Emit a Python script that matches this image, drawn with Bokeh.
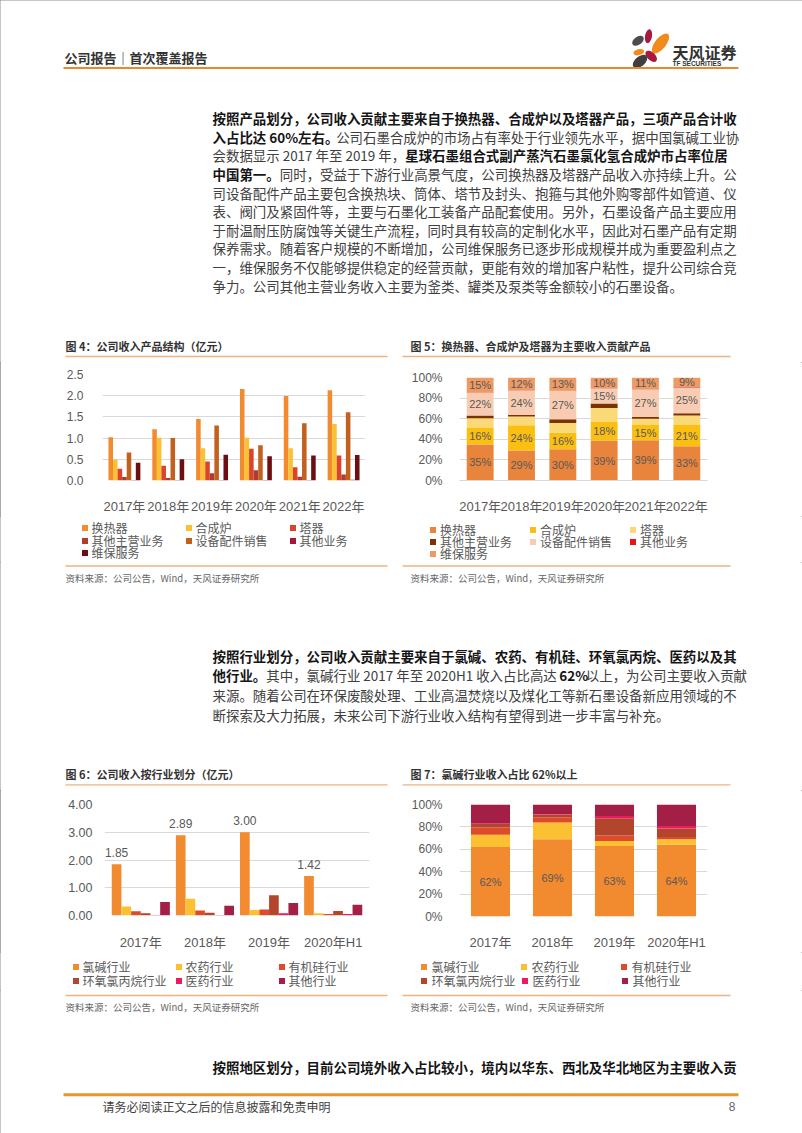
from bokeh.plotting import figure
from bokeh.models import (Range1d, FactorRange, Legend, LegendItem, FixedTicker,
                          PrintfTickFormatter, ColumnDataSource)
from bokeh.layouts import column, row
from bokeh.transform import dodge
from bokeh.core.properties import value
from bokeh.embed import file_html
from bokeh.resources import INLINE

# ---------------- data ----------------
years_a = ["2017年", "2018年", "2019年", "2020年", "2021年", "2022年"]
product_names = ["换热器", "合成炉", "塔器", "其他主营业务", "设备配件销售", "其他业务", "维保服务"]
yticks_a = [0, 0.5, 1.0, 1.5, 2.0, 2.5]
rev_heat_exchanger = [1.02, 1.21, 1.45, 2.16, 1.99, 2.13]
rev_synthesis_furnace = [0.49, 1.01, 0.76, 1.01, 0.76, 1.33]
rev_tower = [0.28, 0.35, 0.45, 0.75, 0.31, 0.59]
rev_other_main = [0.08, 0.06, 0.17, 0.24, 0.09, 0.14]
rev_parts = [0.66, 1.00, 1.30, 0.83, 1.35, 1.61]
rev_other_biz = [0.01, 0.01, 0.01, 0.01, 0.01, 0.02]
rev_maintenance = [0.42, 0.50, 0.61, 0.57, 0.59, 0.60]

pct_ticks = [0, 20, 40, 60, 80, 100]
share_heat_exchanger = [35.0, 29.2, 30.4, 38.8, 39.0, 33.2]
share_synthesis_furnace = [16.0, 24.4, 16.0, 18.1, 14.9, 20.7]
share_tower = [9.5, 8.5, 9.5, 13.5, 6.1, 9.2]
share_other_main = [2.5, 1.4, 3.6, 4.3, 1.8, 2.2]
share_parts = [22.0, 24.2, 27.4, 14.9, 26.6, 25.1]
share_other_biz = [0.3, 0.2, 0.2, 0.2, 0.2, 0.3]
share_maintenance = [14.7, 12.1, 12.9, 10.2, 11.4, 9.3]

years_b = ["2017年", "2018年", "2019年", "2020年H1"]
industry_names = ["氯碱行业", "农药行业", "有机硅行业", "环氧氯丙烷行业", "医药行业", "其他行业"]
yticks_b = [0, 1, 2, 3, 4]
ind_chlor_alkali = [1.85, 2.89, 3.00, 1.42]
ind_pesticide = [0.32, 0.60, 0.20, 0.08]
ind_silicone = [0.15, 0.18, 0.22, 0.05]
ind_epichlorohydrin = [0.08, 0.10, 0.73, 0.16]
ind_pharma = [0.02, 0.02, 0.08, 0.05]
ind_other = [0.49, 0.35, 0.45, 0.39]

ishare_chlor_alkali = [62.0, 69.0, 63.0, 64.0]
ishare_pesticide = [11.0, 15.0, 4.3, 5.0]
ishare_silicone = [6.5, 4.6, 5.1, 2.0]
ishare_epichlorohydrin = [3.2, 2.2, 15.4, 7.5]
ishare_pharma = [0.5, 0.5, 2.0, 2.3]
ishare_other = [16.8, 8.7, 10.2, 19.2]

# ---------------- texts ----------------
header_text = "公司报告｜首次覆盖报告"
logo_cn = "天风证券"
logo_en = "TF SECURITIES"
title4 = "图 4：公司收入产品结构（亿元）"
title5 = "图 5：换热器、合成炉及塔器为主要收入贡献产品"
title6 = "图 6：公司收入按行业划分（亿元）"
title7 = "图 7：氯碱行业收入占比 62%以上"
source_text = "资料来源：公司公告，Wind，天风证券研究所"
footer_text = "请务必阅读正文之后的信息披露和免责申明"
page_no = "8"

para1 = [
    [("按照产品划分，公司收入贡献主要来自于换热器、合成炉以及塔器产品，三项产品合计收", True)],
    [("入占比达 60%左右。", True), ("公司石墨合成炉的市场占有率处于行业领先水平，据中国氯碱工业协", False)],
    [("会数据显示 2017 年至 2019 年，", False), ("星球石墨组合式副产蒸汽石墨氯化氢合成炉市占率位居", True)],
    [("中国第一。", True), ("同时，受益于下游行业高景气度，公司换热器及塔器产品收入亦持续上升。公", False)],
    [("司设备配件产品主要包含换热块、筒体、塔节及封头、抱箍与其他外购零部件如管道、仪", False)],
    [("表、阀门及紧固件等，主要与石墨化工装备产品配套使用。另外，石墨设备产品主要应用", False)],
    [("于耐温耐压防腐蚀等关键生产流程，同时具有较高的定制化水平，因此对石墨产品有定期", False)],
    [("保养需求。随着客户规模的不断增加，公司维保服务已逐步形成规模并成为重要盈利点之", False)],
    [("一，维保服务不仅能够提供稳定的经营贡献，更能有效的增加客户粘性，提升公司综合竞", False)],
    [("争力。公司其他主营业务收入主要为釜类、罐类及泵类等金额较小的石墨设备。", False)],
]
para2 = [
    [("按照行业划分，公司收入贡献主要来自于氯碱、农药、有机硅、环氧氯丙烷、医药以及其", True)],
    [("他行业。", True), ("其中，氯碱行业 2017 年至 2020H1 收入占比高达 ", False), ("62%", True),
     ("以上，为公司主要收入贡献", False)],
    [("来源。随着公司在环保废酸处理、工业高温焚烧以及煤化工等新石墨设备新应用领域的不", False)],
    [("断探索及大力拓展，未来公司下游行业收入结构有望得到进一步丰富与补充。", False)],
]
para3 = [
    [("按照地区划分，目前公司境外收入占比较小，境内以华东、西北及华北地区为主要收入贡", True)],
]

# ---------------- styling ----------------
CJK = "Noto Sans CJK SC"
MIX = "'Liberation Sans', 'Noto Sans CJK SC'"
NARROW = "'Liberation Sans Narrow', 'Liberation Sans'"
ORANGE = "#E8892B"
TLINE = "#F0B27F"
GRID = "#D9D9D9"
AXTXT = "#595959"
colors4 = ["#F28A30", "#FCC033", "#DB442B", "#AC3D2F", "#C2611F", "#A5153C", "#6D0F12"]
colors5 = ["#E8843C", "#FBBF12", "#FCD977", "#7B3300", "#F8CCB2", "#E8141C", "#EE9A65"]
colors6 = ["#F28A30", "#FCC033", "#DE4B2B", "#B3452C", "#EC1A5E", "#A31F45"]

FS = 13.45  # body font size
PAGE_W = 802
PAGE_H = 1133
NAN = float("nan")


def est_width(s, fs):
    w = 0.0
    for ch in s:
        if ord(ch) < 128:
            if ch == " ":
                w += 0.224 * fs
            elif ch.isdigit():
                w += 0.554 * fs
            elif ch == "%":
                w += 0.86 * fs
            elif ch.isupper():
                w += 0.68 * fs
            else:
                w += 0.5 * fs
        else:
            w += fs
    return w


def pix_fig(x0, x1, y0, y1):
    """figure whose data units are page pixels (y downward)"""
    p = figure(width=x1 - x0, height=y1 - y0, x_range=Range1d(x0, x1), y_range=Range1d(y1, y0),
               x_axis_type=None, y_axis_type=None, toolbar_location=None,
               output_backend="svg", min_border=0)
    p.outline_line_color = None
    p.border_fill_color = "white"
    p.background_fill_color = "white"
    return p


def draw_par(p, lines, x0, ys, fs=FS):
    xn, yn, tn, xb, yb, tb = [], [], [], [], [], []
    for segs, y in zip(lines, ys):
        x = x0
        for txt, bold in segs:
            if bold:
                xb.append(x); yb.append(y); tb.append(txt)
            else:
                xn.append(x); yn.append(y); tn.append(txt)
            x += est_width(txt, fs)
    if tn:
        p.text(x=xn, y=yn, text=tn, text_font=value(CJK), text_font_size=f"{fs}px",
               text_color="#404040", text_baseline="middle", text_align="left")
    if tb:
        p.text(x=xb, y=yb, text=tb, text_font=value(CJK), text_font_size=f"{fs}px",
               text_font_style="bold", text_color="#151515", text_baseline="middle", text_align="left")


def add_titles(p, t_left, t_right, y_title, y_line):
    p.text(x=[65, 410], y=[y_title, y_title], text=[t_left, t_right], text_font=value(CJK),
           text_font_size="11px", text_font_style="bold", text_color="#333333",
           text_baseline="middle", text_align="left")
    p.segment(x0=[65, 402], y0=[y_line, y_line], x1=[387, 730], y1=[y_line, y_line],
              line_color=TLINE, line_width=1.3)


def add_sources(p, y_line, y_src):
    p.segment(x0=[65, 402], y0=[y_line, y_line], x1=[387, 730], y1=[y_line, y_line],
              line_color=TLINE, line_width=1.3)
    p.text(x=[65, 410], y=[y_src, y_src], text=[source_text, source_text], text_font=value(CJK),
           text_font_size="9.5px", text_color="#666666", text_baseline="middle", text_align="left")


def style_chart(p, yticks, yfmt, ylab_fs, ystand, xstand, xaxis_line=None):
    p.outline_line_color = None
    p.border_fill_color = "white"
    p.background_fill_color = "white"
    p.xgrid.grid_line_color = None
    p.ygrid.grid_line_color = GRID
    p.ygrid.grid_line_width = 1
    p.yaxis.ticker = FixedTicker(ticks=yticks)
    p.yaxis.formatter = PrintfTickFormatter(format=yfmt)
    for ax in p.yaxis:
        ax.axis_line_color = None
        ax.major_tick_line_color = None
        ax.minor_tick_line_color = None
        ax.major_label_text_font = "Liberation Sans"
        ax.major_label_text_font_size = ylab_fs
        ax.major_label_text_color = AXTXT
        ax.major_label_standoff = ystand
    for ax in p.xaxis:
        ax.axis_line_color = xaxis_line
        ax.major_tick_line_color = None
        ax.minor_tick_line_color = None
        ax.major_label_text_font = MIX
        ax.major_label_text_font_size = "13px"
        ax.major_label_text_color = AXTXT
        ax.major_label_standoff = xstand


def legend_fig(x0, x1, y0, y1, labels, colors, glyph_cx, row_ys, pitch, ncol=3):
    """legend panel below a chart; swatches come from placeholder square markers (no drawn data)"""
    lf = pix_fig(x0, x1, y0, y1)
    rends = [lf.scatter(x=[NAN], y=[NAN], marker="square", size=6, fill_color=c, line_color=None)
             for c in colors]
    GW, GH, STAND, SP = 15, 17, -2, 2
    H = 17.4
    for k, start in enumerate(range(0, len(labels), ncol)):
        idx = list(range(start, min(start + ncol, len(labels))))
        items = [LegendItem(label=labels[i], renderers=[rends[i]]) for i in idx]
        yc = row_ys[k]
        vy = y1 - (yc + H / 2)
        leg = Legend(items=items, orientation="horizontal", location=(glyph_cx - GW / 2 - x0, vy),
                     padding=0, margin=0, spacing=SP, glyph_width=GW, glyph_height=GH,
                     label_height=GH, label_width=pitch - GW - STAND - SP, label_standoff=STAND)
        leg.border_line_color = None
        leg.background_fill_alpha = 0
        leg.inactive_fill_alpha = 0
        leg.label_text_font = CJK
        leg.label_text_font_size = "12px"
        leg.label_text_color = AXTXT
        lf.add_layout(leg, "center")
    return lf


# ---------------- section A: header + paragraph 1 + chart titles ----------------
sa = pix_fig(0, PAGE_W, 0, 362)
sa.text(x=[64], y=[57], text=[header_text], text_font=value(CJK), text_font_size="13px",
        text_font_style="bold", text_color="#333333", text_baseline="middle")
sa.ellipse(x=[637.5, 648.0, 660.0, 638.3, 650.7, 639.5],
           y=[40.3, 35.7, 43.0, 51.7, 55.8, 61.0],
           width=[13, 14, 24, 11, 14, 17], height=[8, 7, 11, 6, 8, 10],
           angle=[0.6, 1.4, 0.9, 0.25, -0.75, 0.7],
           fill_color=["#4D4D4D", "#A8193E", "#F08C1E", "#F08C1E", "#A8193E", "#3F3F3F"],
           line_color=None)
sa.text(x=[672], y=[51], text=[logo_cn], text_font=value(CJK), text_font_size="16px",
        text_font_style="bold", text_color="#333333", text_baseline="middle")
sa.text(x=[672], y=[62.5], text=[logo_en], text_font=value("Liberation Sans"), text_font_size="6.5px",
        text_font_style="bold", text_color="#333333", text_baseline="middle")
sa.segment(x0=[63], y0=[67.5], x1=[738], y1=[67.5], line_color=ORANGE, line_width=2)
draw_par(sa, para1, 212, [117.7 + 18.6 * i for i in range(len(para1))])
add_titles(sa, title4, title5, 345, 356)

# ---------------- chart 4: grouped bars ----------------
p4 = figure(width=400, height=154, x_range=FactorRange(factors=years_a), y_range=Range1d(0, 2.5),
            output_backend="svg", toolbar_location=None,
            min_border_left=102, min_border_right=35, min_border_top=12, min_border_bottom=34)
src4 = ColumnDataSource(data=dict(year=years_a, s0=rev_heat_exchanger, s1=rev_synthesis_furnace,
                                  s2=rev_tower, s3=rev_other_main, s4=rev_parts, s5=rev_other_biz,
                                  s6=rev_maintenance))
bw4 = 0.104
for i in range(7):
    p4.vbar(x=dodge("year", (i - 3) * bw4, range=p4.x_range), top=f"s{i}", width=bw4,
            source=src4, fill_color=colors4[i], line_color=None)
style_chart(p4, yticks_a, "%.1f", "12px", 13, 12)
l4 = legend_fig(0, 400, 516, 562, product_names, colors4, 84.0, [527.3, 540.0, 552.7], 102)

# ---------------- chart 5: 100% stacked ----------------
p5 = figure(width=PAGE_W - 400, height=154, x_range=FactorRange(factors=years_a), y_range=Range1d(0, 100),
            output_backend="svg", toolbar_location=None,
            min_border_left=59, min_border_right=95, min_border_top=15, min_border_bottom=31)
keys5 = ["s0", "s1", "s2", "s3", "s4", "s5", "s6"]
stack5 = [share_heat_exchanger, share_synthesis_furnace, share_tower, share_other_main,
          share_parts, share_other_biz, share_maintenance]
src5 = ColumnDataSource(data=dict(year=years_a, **{k: v for k, v in zip(keys5, stack5)}))
p5.vbar_stack(keys5, x="year", width=0.65, source=src5, fill_color=colors5, line_color=None)
lx, ly, lt = [], [], []
for j, yr in enumerate(years_a):
    cum = 0.0
    for i, ser in enumerate(stack5):
        if i in (0, 1, 4, 6):
            lx.append(yr); ly.append(cum + ser[j] / 2); lt.append(f"{round(ser[j])}%")
        cum += ser[j]
p5.text(x=lx, y=ly, text=lt, text_font=value(NARROW), text_font_size="11px", text_color=AXTXT,
        text_align="center", text_baseline="middle")
style_chart(p5, pct_ticks, "%d%%", "12px", 11, 12, xaxis_line=GRID)
l5 = legend_fig(400, PAGE_W, 516, 562, product_names, colors5, 432.5, [529.3, 541.7, 553.3], 98)

# ---------------- section C: sources + paragraph 2 + chart titles ----------------
sc = pix_fig(0, PAGE_W, 562, 790)
add_sources(sc, 565.5, 577.3)
draw_par(sc, para2, 212, [655.0, 674.8, 694.6, 714.4])
add_titles(sc, title6, title7, 773.3, 784.3)

# ---------------- chart 6: grouped bars ----------------
p6 = figure(width=400, height=162,
            x_range=FactorRange(factors=years_b, range_padding=0.033),
            y_range=Range1d(0, 4), output_backend="svg", toolbar_location=None,
            min_border_left=104, min_border_right=31, min_border_top=14, min_border_bottom=30)
series6 = [ind_chlor_alkali, ind_pesticide, ind_silicone, ind_epichlorohydrin, ind_pharma, ind_other]
src6 = ColumnDataSource(data=dict(year=years_b, **{f"s{i}": v for i, v in enumerate(series6)},
                                  lab=[f"{v:.2f}" for v in ind_chlor_alkali]))
bw6 = 0.151
for i in range(6):
    p6.vbar(x=dodge("year", (i - 2.5) * bw6, range=p6.x_range), top=f"s{i}", width=bw6,
            source=src6, fill_color=colors6[i], line_color=None)
p6.text(x=dodge("year", -2.5 * bw6, range=p6.x_range), y="s0", text="lab", source=src6,
        y_offset=-12, text_font=value("Liberation Sans"), text_font_size="12px", text_color=AXTXT,
        text_align="center", text_baseline="middle")
style_chart(p6, yticks_b, "%.2f", "12.5px", 6, 13)
l6 = legend_fig(0, 400, 952, 990, industry_names, colors6, 75.0, [966.0, 980.7], 101)

# ---------------- chart 7: 100% stacked ----------------
p7 = figure(width=PAGE_W - 400, height=162, x_range=FactorRange(factors=years_b), y_range=Range1d(0, 100),
            output_backend="svg", toolbar_location=None,
            min_border_left=59, min_border_right=95, min_border_top=14, min_border_bottom=30)
stack7 = [ishare_chlor_alkali, ishare_pesticide, ishare_silicone, ishare_epichlorohydrin,
          ishare_pharma, ishare_other]
keys7 = [f"s{i}" for i in range(6)]
src7 = ColumnDataSource(data=dict(year=years_b, **{k: v for k, v in zip(keys7, stack7)},
                                  mid=[v / 2 for v in ishare_chlor_alkali],
                                  lab=[f"{round(v)}%" for v in ishare_chlor_alkali]))
p7.vbar_stack(keys7, x="year", width=0.63, source=src7, fill_color=colors6, line_color=None)
p7.text(x="year", y="mid", text="lab", source=src7, text_font=value(NARROW), text_font_size="11px",
        text_color=AXTXT, text_align="center", text_baseline="middle")
style_chart(p7, pct_ticks, "%d%%", "12px", 11, 12)
l7 = legend_fig(400, PAGE_W, 952, 990, industry_names, colors6, 423.9, [966.7, 980.7], 98)

# ---------------- section E: sources + paragraph 3 + footer ----------------
se = pix_fig(0, PAGE_W, 990, PAGE_H)
add_sources(se, 995, 1006)
draw_par(se, para3, 212, [1066.7])
se.segment(x0=[63], y0=[1094.3], x1=[738], y1=[1094.3], line_color="#E8952E", line_width=3)
se.text(x=[102], y=[1106], text=[footer_text], text_font=value(CJK), text_font_size="12px",
        text_color="#404040", text_baseline="middle")
se.text(x=[735], y=[1106], text=[page_no], text_font=value("Liberation Sans"), text_font_size="12px",
        text_color="#666666", text_baseline="middle", text_align="right")

page = column(sa,
              row(column(p4), column(p5), spacing=0),
              row(column(l4), column(l5), spacing=0),
              sc,
              row(column(p6), column(p7), spacing=0),
              row(column(l6), column(l7), spacing=0),
              se, spacing=0,
              styles={"outline": "1px solid #8c8c8c", "outline-offset": "-1px"})
open("out.html", "w").write(file_html(page, INLINE))
